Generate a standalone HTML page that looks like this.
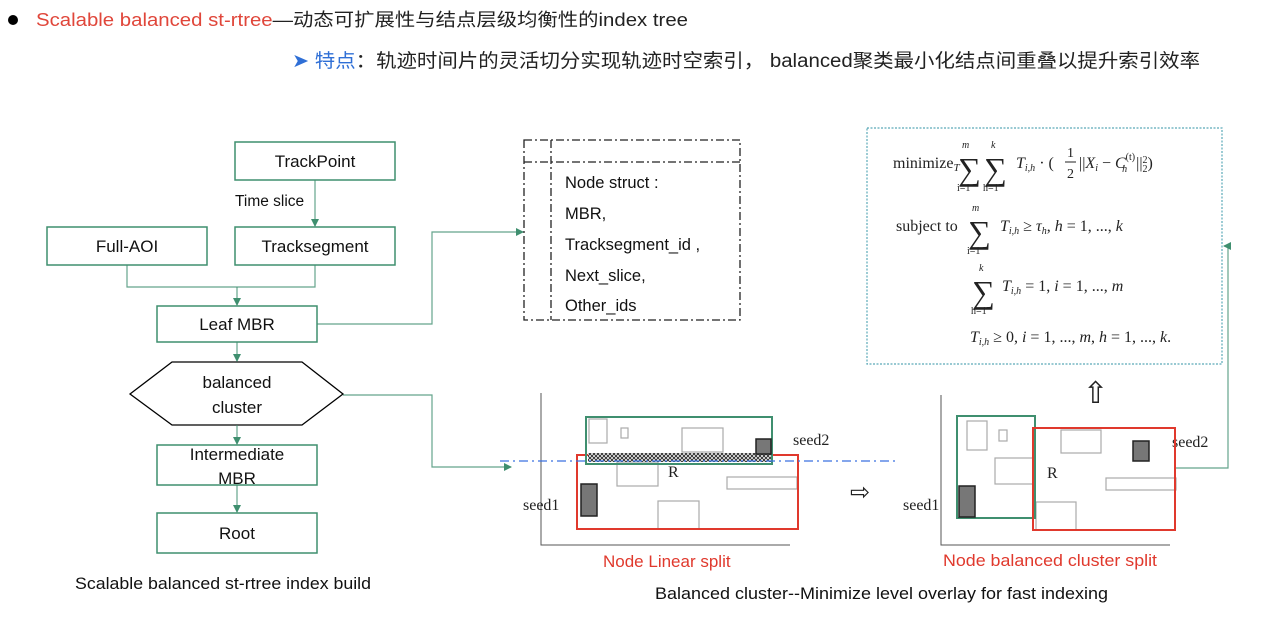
<!DOCTYPE html>
<html><head><meta charset="utf-8"><style>
html,body{margin:0;padding:0;background:#fff;width:1280px;height:617px;overflow:hidden}
svg{display:block}
.s{font-family:"Liberation Sans","Noto Sans CJK SC",sans-serif}
.m{font-family:"Liberation Serif",serif;fill:#222}
</style></head><body>
<svg width="1280" height="617" viewBox="0 0 1280 617" xmlns="http://www.w3.org/2000/svg">
<defs>
<marker id="a" markerWidth="8" markerHeight="8" refX="7" refY="4" orient="auto" markerUnits="userSpaceOnUse"><path d="M0,0 L8,4 L0,8 z" fill="#3f8f6f"/></marker>
<pattern id="h" width="4" height="4" patternUnits="userSpaceOnUse"><rect width="4" height="4" fill="#fff"/><path d="M0,0L4,4M4,0L0,4" stroke="#333" stroke-width="1"/></pattern>
</defs>
<circle cx="13" cy="20" r="5" fill="#000"/>
<text x="36" y="26" class="s" font-size="18" textLength="652" lengthAdjust="spacingAndGlyphs"><tspan fill="#e0463a">Scalable balanced st-rtree</tspan><tspan fill="#222">—动态可扩展性与结点层级均衡性的index tree</tspan></text>
<text x="292" y="67" class="s" font-size="19" fill="#222" textLength="908" lengthAdjust="spacingAndGlyphs"><tspan fill="#2f6fd6">➤ 特点</tspan>：轨迹时间片的灵活切分实现轨迹时空索引， balanced聚类最小化结点间重叠以提升索引效率</text>

<g fill="#fff" stroke="#3f8f6f" stroke-width="1.5">
<rect x="235" y="142" width="160" height="38"/>
<rect x="235" y="227" width="160" height="38"/>
<rect x="47" y="227" width="160" height="38"/>
<rect x="157" y="306" width="160" height="36"/>
<rect x="157" y="445" width="160" height="40"/>
<rect x="157" y="513" width="160" height="40"/>
</g>
<polygon points="130,394 172,362 302,362 343,394 302,425 172,425" fill="#fff" stroke="#000" stroke-width="1.3"/>
<g class="s" font-size="17" fill="#111" text-anchor="middle">
<text x="315" y="167">TrackPoint</text>
<text x="315" y="252">Tracksegment</text>
<text x="127" y="252">Full-AOI</text>
<text x="237" y="330">Leaf MBR</text>
<text x="237" y="388">balanced</text>
<text x="237" y="413">cluster</text>
<text x="237" y="460">Intermediate</text>
<text x="237" y="484">MBR</text>
<text x="237" y="539">Root</text>
</g>
<text x="235" y="206" class="s" font-size="15.5" fill="#111">Time slice</text>
<g fill="none" stroke="#3f8f6f" stroke-width="1.2" stroke-opacity="0.8">
<path d="M315,180 V226" marker-end="url(#a)"/>
<path d="M127,265 V287 H315 V265"/>
<path d="M237,287 V305" marker-end="url(#a)"/>
<path d="M237,342 V361" marker-end="url(#a)"/>
<path d="M237,425 V444" marker-end="url(#a)"/>
<path d="M237,485 V512" marker-end="url(#a)"/>
<path d="M317,324 H432 V232 H523" marker-end="url(#a)"/>
<path d="M343,395 H432 V467 H511" marker-end="url(#a)"/>
<path d="M1176,468 H1228 V246 H1224" marker-end="url(#a)"/>
</g>

<g fill="none" stroke="#222" stroke-width="1.3" stroke-dasharray="8,3,2,3">
<rect x="524" y="140" width="216" height="180"/>
<path d="M524,162 H740 M551,140 V320"/>
</g>
<g class="s" font-size="16.5" fill="#111">
<text x="565" y="188">Node struct :</text>
<text x="565" y="219">MBR,</text>
<text x="565" y="250">Tracksegment_id ,</text>
<text x="565" y="281">Next_slice,</text>
<text x="565" y="311">Other_ids</text>
</g>

<rect x="867" y="128" width="355" height="236" fill="none" stroke="#5aa9b8" stroke-width="1.2" stroke-dasharray="2,1.5"/>
<g class="m" font-size="16">
<text x="893" y="168">minimize<tspan font-size="11" dy="3" font-style="italic">T</tspan></text>
<text x="958" y="180" font-size="32">∑</text><text x="962" y="148" font-size="10" font-style="italic">m</text><text x="957" y="191" font-size="10">i=1</text>
<text x="984" y="180" font-size="32">∑</text><text x="991" y="148" font-size="10" font-style="italic">k</text><text x="983" y="191" font-size="10">h=1</text>
<text x="1016" y="168"><tspan font-style="italic">T</tspan><tspan font-size="10" dy="3" font-style="italic">i,h</tspan><tspan dy="-3"> · (</tspan></text>
<text x="1067" y="157" font-size="14">1</text><line x1="1065" y1="162" x2="1076" y2="162" stroke="#222"/><text x="1067" y="178" font-size="14">2</text>
<text x="1079" y="168">||<tspan font-style="italic">X</tspan><tspan font-size="10" dy="3" font-style="italic">i</tspan><tspan dy="-3"> − </tspan><tspan font-style="italic">C</tspan><tspan font-size="10" dy="-8">(t)</tspan><tspan font-size="10" dx="-13" dy="12" font-style="italic">h</tspan><tspan dx="9" dy="-4">||</tspan><tspan font-size="10" dy="-5">2</tspan><tspan font-size="10" dx="-5" dy="9">2</tspan><tspan dy="-4">)</tspan></text>
<text x="896" y="231">subject to</text>
<text x="968" y="243" font-size="32">∑</text><text x="972" y="211" font-size="10" font-style="italic">m</text><text x="967" y="254" font-size="10">i=1</text>
<text x="1000" y="231"><tspan font-style="italic">T</tspan><tspan font-size="10" dy="3" font-style="italic">i,h</tspan><tspan dy="-3"> ≥ </tspan><tspan font-style="italic">τ</tspan><tspan font-size="10" dy="3" font-style="italic">h</tspan><tspan dy="-3">, </tspan><tspan font-style="italic">h</tspan> = 1, ..., <tspan font-style="italic">k</tspan></text>
<text x="972" y="303" font-size="32">∑</text><text x="979" y="271" font-size="10" font-style="italic">k</text><text x="971" y="314" font-size="10">h=1</text>
<text x="1002" y="291"><tspan font-style="italic">T</tspan><tspan font-size="10" dy="3" font-style="italic">i,h</tspan><tspan dy="-3"> = 1, </tspan><tspan font-style="italic">i</tspan> = 1, ..., <tspan font-style="italic">m</tspan></text>
<text x="970" y="342"><tspan font-style="italic">T</tspan><tspan font-size="10" dy="3" font-style="italic">i,h</tspan><tspan dy="-3"> ≥ 0, </tspan><tspan font-style="italic">i</tspan> = 1, ..., <tspan font-style="italic">m</tspan>, <tspan font-style="italic">h</tspan> = 1, ..., <tspan font-style="italic">k</tspan>.</text>
</g>
<text x="1083" y="403" font-size="30" fill="#111" class="m">⇧</text>

<!-- left diagram -->
<g stroke="#555" stroke-width="1" fill="none"><path d="M541,393 V545 H790"/></g>
<g fill="none" stroke="#aaa" stroke-width="1.2">
<rect x="589" y="419" width="18" height="24"/><rect x="621" y="428" width="7" height="10"/><rect x="682" y="428" width="41" height="24"/>
<rect x="617" y="462" width="41" height="24"/><rect x="727" y="477" width="70" height="12"/><rect x="658" y="501" width="41" height="28"/>
</g>
<rect x="577" y="455" width="221" height="74" fill="none" stroke="#e0392d" stroke-width="2"/>
<rect x="586" y="417" width="186" height="47" fill="none" stroke="#3f8f6f" stroke-width="2"/>
<rect x="588" y="453" width="183" height="9" fill="url(#h)"/>
<rect x="756" y="439" width="15" height="15" fill="#777" stroke="#222" stroke-width="1.5"/>
<rect x="581" y="484" width="16" height="32" fill="#777" stroke="#222" stroke-width="1.5"/>
<path d="M500,461 H895" stroke="#3a72e0" stroke-width="1.2" stroke-dasharray="9,4,2,4"/>
<g class="m" font-size="16" fill="#222"><text x="793" y="445">seed2</text><text x="523" y="510">seed1</text><text x="668" y="477">R</text>
<text x="1172" y="447">seed2</text><text x="903" y="510">seed1</text><text x="1047" y="478">R</text></g>
<text x="603" y="567" class="s" font-size="17" fill="#e0392d">Node Linear split</text>
<text x="850" y="500" font-size="24" fill="#111" class="m">⇨</text>

<!-- right diagram -->
<g stroke="#555" stroke-width="1" fill="none"><path d="M941,395 V545 H1170"/></g>
<g fill="none" stroke="#aaa" stroke-width="1.2">
<rect x="967" y="421" width="20" height="29"/><rect x="999" y="430" width="8" height="11"/><rect x="995" y="458" width="40" height="26"/>
<rect x="1061" y="430" width="40" height="23"/><rect x="1106" y="478" width="70" height="12"/><rect x="1036" y="502" width="40" height="28"/>
</g>
<rect x="957" y="416" width="78" height="102" fill="none" stroke="#3f8f6f" stroke-width="2"/>
<rect x="1033" y="428" width="142" height="102" fill="none" stroke="#e0392d" stroke-width="2"/>
<rect x="1133" y="441" width="16" height="20" fill="#777" stroke="#222" stroke-width="1.5"/>
<rect x="959" y="486" width="16" height="31" fill="#777" stroke="#222" stroke-width="1.5"/>
<text x="943" y="566" class="s" font-size="17" fill="#e0392d" textLength="214" lengthAdjust="spacingAndGlyphs">Node balanced cluster split</text>

<g class="s" font-size="16.5" fill="#111">
<text x="75" y="589" textLength="296" lengthAdjust="spacingAndGlyphs">Scalable balanced st-rtree index build</text>
<text x="655" y="599" textLength="453" lengthAdjust="spacingAndGlyphs">Balanced cluster--Minimize level overlay for fast indexing</text>
</g>
</svg>
</body></html>
